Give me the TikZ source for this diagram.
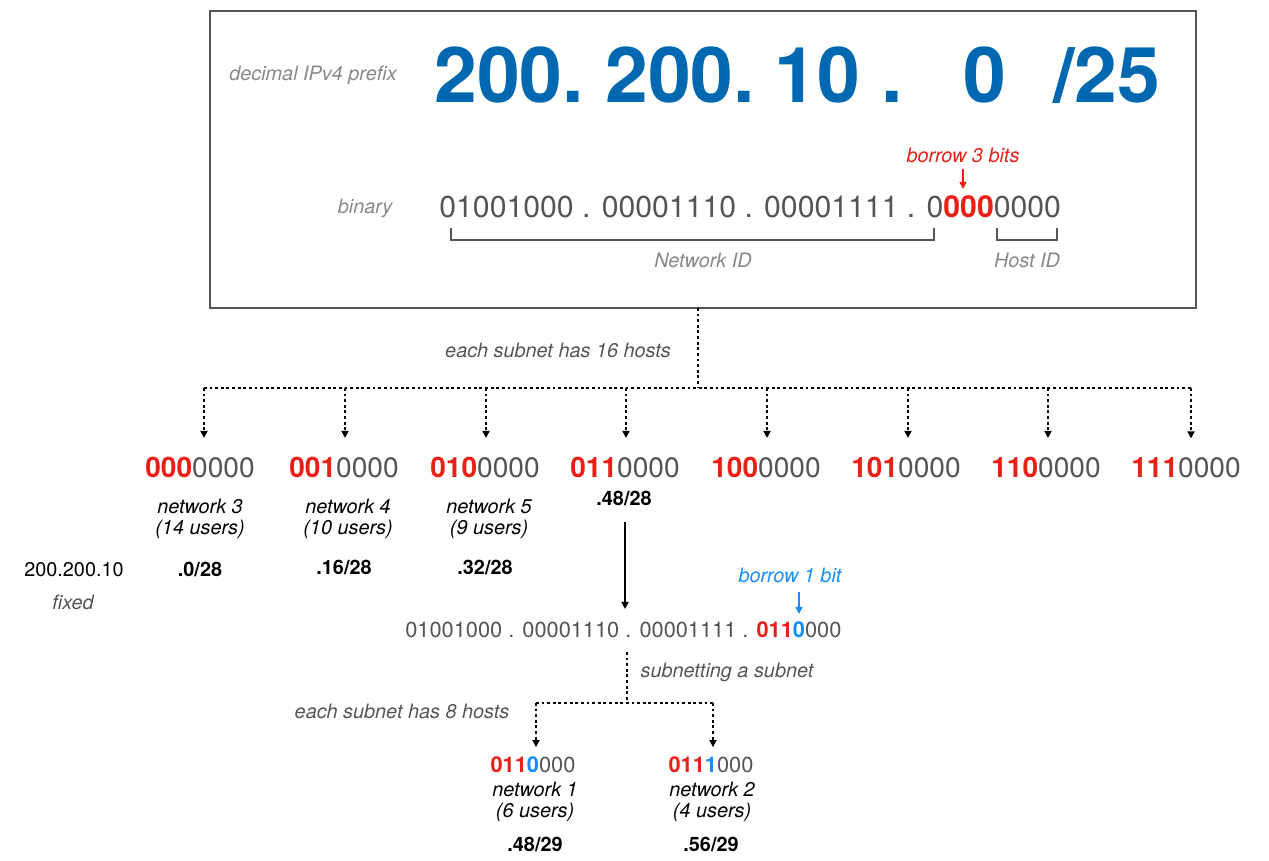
\documentclass[tikz,border=0pt]{standalone}
\usepackage{fontspec}
\setmainfont{TeX Gyre Heros}
\usepackage{xcolor}
\usetikzlibrary{arrows.meta}
\definecolor{ipblue}{RGB}{0,104,176}
\definecolor{bitred}{RGB}{232,32,22}
\definecolor{bitblue}{RGB}{22,142,250}
\definecolor{txtgray}{RGB}{85,85,85}
\definecolor{lblgray}{RGB}{136,136,136}
\definecolor{boxgray}{RGB}{85,85,85}

\begin{document}
\begin{tikzpicture}[x=0.02cm,y=-0.02cm,
  lbl/.style={font=\fontsize{11.3}{12}\selectfont\itshape,align=center},
  big/.style={font=\fontsize{43.8}{50}\selectfont\bfseries,text=ipblue,inner sep=0,anchor=base west},
  bitsA/.style={font=\fontsize{17.2}{20}\selectfont,text=txtgray,inner sep=0},
  bitsB/.style={font=\fontsize{16}{19}\selectfont,text=txtgray,inner sep=0,anchor=base},
  bitsC/.style={font=\fontsize{12.4}{15}\selectfont,text=txtgray,inner sep=0},
  addr/.style={font=\fontsize{11.3}{13}\selectfont\bfseries},
  dots/.style={line width=0.9pt,dash pattern=on 1.6pt off 1.6pt},
  tip/.style={-{Triangle[length=4pt,width=4pt]}}]
\useasboundingbox (0,0) rectangle (1269,861);
% prefix box
\draw[line width=1.1pt,draw=boxgray] (210,11) rectangle (1196,308);
\node[lbl,text=lblgray] (declbl) at (313,75) {decimal IPv4 prefix};
\node[big] (oct1) at (434,103) {200.};
\node[big] (oct2) at (605,103) {200.};
\node[big] (oct3) at (774,103) {10 .};
\node[big] (oct4) at (963,103) {0};
\node[big] (mask) at (1053,103) {/25};
\node[lbl,text=bitred] (borrow3) at (963,155) {borrow 3 bits};
\coordinate (b3end) at (963,189);
\draw[bitred,line width=0.9pt,tip] (borrow3) -- (b3end);
\node[lbl,text=lblgray] (binlbl) at (365,208) {binary};
\node[bitsA,anchor=base west] (bin1) at (439,218)
  {01001000 . 00001110 . 00001111 . 0\textcolor{bitred}{\bfseries 000}0000};
\draw[line width=0.85pt,draw=boxgray] (451,228) |- (934,240) -- (934,228);
\draw[line width=0.85pt,draw=boxgray] (997,228) |- (1057,240) -- (1057,228);
\node[lbl,text=lblgray] (netid) at (703,260) {Network ID};
\node[lbl,text=lblgray] (hostid) at (1027,260) {Host ID};
% first split
\coordinate (boxbot) at (698,308);
\coordinate (busmid) at (698,388);
\coordinate (bus1) at (204,388);
\coordinate (bus2) at (345,388);
\coordinate (bus3) at (486,388);
\coordinate (bus4) at (626,388);
\coordinate (bus5) at (767,388);
\coordinate (bus6) at (908,388);
\coordinate (bus7) at (1048,388);
\coordinate (bus8) at (1191,388);
\draw[dots] (boxbot) -- (busmid);
\draw[dots] (bus1) -- (bus8);
\node[lbl,text=txtgray] (hosts16) at (558,350) {each subnet has 16 hosts};
\node[bitsB] (sub1) at (200,478) {\textcolor{bitred}{\bfseries 000}0000};
\node[bitsB] (sub2) at (344,478) {\textcolor{bitred}{\bfseries 001}0000};
\node[bitsB] (sub3) at (485,478) {\textcolor{bitred}{\bfseries 010}0000};
\node[bitsB] (sub4) at (625,478) {\textcolor{bitred}{\bfseries 011}0000};
\node[bitsB] (sub5) at (766,478) {\textcolor{bitred}{\bfseries 100}0000};
\node[bitsB] (sub6) at (906,478) {\textcolor{bitred}{\bfseries 101}0000};
\node[bitsB] (sub7) at (1046,478) {\textcolor{bitred}{\bfseries 110}0000};
\node[bitsB] (sub8) at (1186,478) {\textcolor{bitred}{\bfseries 111}0000};
\draw[dots,tip,shorten >=11pt] (bus1) -- (bus1 |- sub1.north);
\draw[dots,tip,shorten >=11pt] (bus2) -- (bus2 |- sub2.north);
\draw[dots,tip,shorten >=11pt] (bus3) -- (bus3 |- sub3.north);
\draw[dots,tip,shorten >=11pt] (bus4) -- (bus4 |- sub4.north);
\draw[dots,tip,shorten >=11pt] (bus5) -- (bus5 |- sub5.north);
\draw[dots,tip,shorten >=11pt] (bus6) -- (bus6 |- sub6.north);
\draw[dots,tip,shorten >=11pt] (bus7) -- (bus7 |- sub7.north);
\draw[dots,tip,shorten >=11pt] (bus8) -- (bus8 |- sub8.north);
\node[lbl] (net3) at (200,519) {network 3\\(14 users)};
\node[lbl] (net4) at (348,519) {network 4\\(10 users)};
\node[lbl] (net5) at (489,519) {network 5\\(9 users)};
\node[addr] (addr1) at (200,569) {.0/28};
\node[addr] (addr2) at (344,567) {.16/28};
\node[addr] (addr3) at (485,567) {.32/28};
\node[addr] (addr4) at (624,498) {.48/28};
\node[font=\fontsize{11.3}{13}\selectfont] (fixnum) at (74,570) {200.200.10};
\node[lbl,text=txtgray] (fixed) at (73,602) {fixed};
% subnetting the fourth subnet
\node[bitsC,anchor=base west] (bin2) at (405,638)
  {01001000 . 00001110 . 00001111 . \textcolor{bitred}{\bfseries 011}\textcolor{bitblue}{\bfseries 0}000};
\coordinate (b4end) at (625,609);
\draw[line width=0.9pt,tip] (addr4) ++(1,24) -- (b4end);
\node[lbl,text=bitblue] (borrow1) at (790,575) {borrow 1 bit};
\coordinate (b1end) at (799,614);
\draw[bitblue,line width=0.9pt,tip] (borrow1) ++(9,17) -- (b1end);
\coordinate (bin2bot) at (627,652);
\coordinate (bus2mid) at (627,703);
\coordinate (busL) at (536,703);
\coordinate (busR) at (713,703);
\draw[dots] (bin2bot) -- (bus2mid);
\draw[dots] (busL) -- (busR);
\node[lbl,text=txtgray] (subsub) at (727,672) {subnetting a subnet};
\node[lbl,text=txtgray] (hosts8) at (402,711) {each subnet has 8 hosts};
\node[bitsC,anchor=base] (sub41) at (533,772)
  {\textcolor{bitred}{\bfseries 011}\textcolor{bitblue}{\bfseries 0}000};
\node[bitsC,anchor=base] (sub42) at (711,772)
  {\textcolor{bitred}{\bfseries 011}\textcolor{bitblue}{\bfseries 1}000};
\draw[dots,tip,shorten >=5pt] (busL) -- (busL |- sub41.north);
\draw[dots,tip,shorten >=5pt] (busR) -- (busR |- sub42.north);
\node[lbl] (net1) at (535,802) {network 1\\(6 users)};
\node[lbl] (net2) at (712,802) {network 2\\(4 users)};
\node[addr] (addr41) at (535,844) {.48/29};
\node[addr] (addr42) at (711,844) {.56/29};
\end{tikzpicture}
\end{document}
